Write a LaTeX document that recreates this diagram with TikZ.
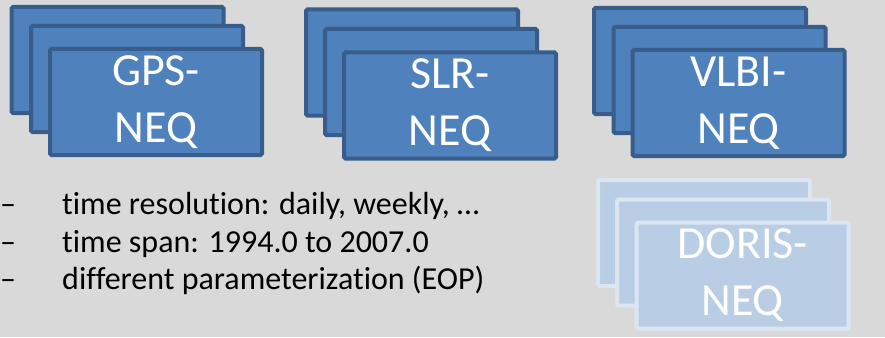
\documentclass[tikz,border=0pt]{standalone}
\usepackage{fontspec}
\setmainfont[Ligatures=NoCommon]{Carlito}
\definecolor{bg}{HTML}{D9D9D9}
\definecolor{boxfill}{HTML}{4F81BD}
\definecolor{boxline}{HTML}{385D8A}
\definecolor{pfill}{HTML}{B9CDE5}
\definecolor{pline}{HTML}{DCE6F2}
\tikzset{
  card/.style={draw=boxline, fill=boxfill, line width=4pt, rounded corners=1.5pt,
    minimum width=212pt, minimum height=106pt, inner sep=0pt},
  palecard/.style={card, draw=pline, fill=pfill},
  cardtext/.style={text=white, align=center, font=\fontsize{46}{57}\selectfont},
  bullettext/.style={anchor=base west, inner sep=0pt, font=\fontsize{32}{37}\selectfont, text=black},
}
\begin{document}
\begin{tikzpicture}[x=1pt, y=-1pt]
\fill[bg] (0,0) rectangle (885,337);
\useasboundingbox (0,0) rectangle (885,337);
% GPS
\node[card] (gps1) at (117.5,60) {};
\node[card] (gps2) at (137,79) {};
\node[card, cardtext] (gps3) at (156,102) {GPS-\\NEQ};
% SLR
\node[card] (slr1) at (412,62.5) {};
\node[card] (slr2) at (431,82) {};
\node[card, cardtext] (slr3) at (450,105.5) {SLR-\\NEQ};
% VLBI
\node[card] (vlbi1) at (700,61) {};
\node[card] (vlbi2) at (719.5,80) {};
\node[card, cardtext] (vlbi3) at (738.5,103) {VLBI-\\NEQ};
% DORIS
\node[palecard] (doris1) at (704,233) {};
\node[palecard] (doris2) at (723,252.5) {};
\node[palecard, cardtext] (doris3) at (742.5,275.5) {DORIS-\\NEQ};
% bullets
\node[bullettext] (d1) at (0,214) {–};
\node[bullettext] (d2) at (0,252) {–};
\node[bullettext] (d3) at (0,289) {–};
\node[bullettext] (t1) at (62,214) {time resolution: daily, weekly, …};
\node[bullettext] (t2) at (62,252) {time span: 1994.0 to 2007.0};
\node[bullettext] (t3) at (62,289) {different parameterization (EOP)};
\end{tikzpicture}
\end{document}
